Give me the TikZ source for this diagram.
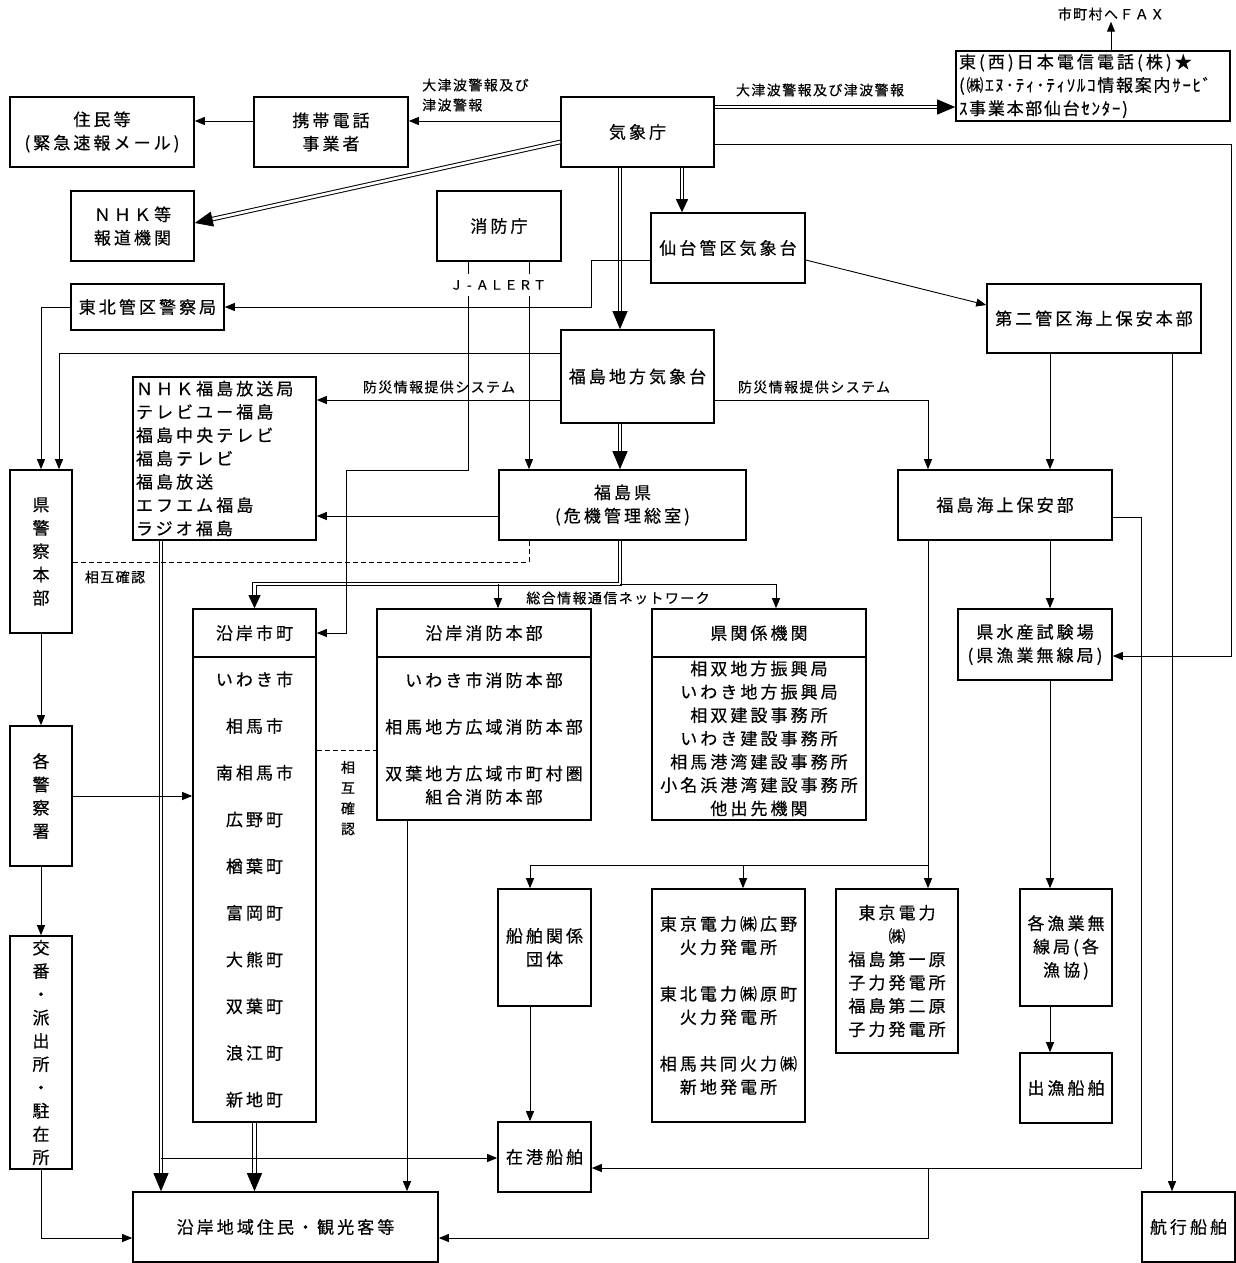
\documentclass[tikz,border=0pt]{standalone}
\usepackage{fontspec}
\setmainfont[LetterSpace=18,FakeBold=0.5]{Noto Sans CJK JP}
\newfontfamily\lblfont[LetterSpace=10,FakeBold=0.4]{Noto Sans CJK JP}
\usetikzlibrary{arrows.meta,calc}

% filled tip laid over the end of a double line
\newcommand{\tipto}[4]{\draw[line width=0.9pt,-{Triangle[width=#1,length=#2]}] ($(#4)!#2!(#3)$) -- (#4);}

\tikzset{
  box/.style={draw, line width=1.6pt, inner sep=0pt, align=center, font=\fontsize{17}{23.3}\selectfont},
  lbl/.style={inner sep=1pt, font=\lblfont\fontsize{14}{20}\selectfont},
  arr/.style={line width=0.9pt, -{Triangle[width=8pt,length=10pt]}},
  dbl/.style={double, double distance=2.6pt, line width=1pt, shorten >=12pt},
  dashline/.style={line width=0.9pt, dash pattern=on 5pt off 3pt}
}

\begin{document}
\begin{tikzpicture}[x=1pt, y=-1pt]
\useasboundingbox (0,0) rectangle (1236,1263);

% top row
\node[box, minimum width=184pt, minimum height=70pt] (jumin) at (102,132) {住民等\\(緊急速報メール)};
\node[box, minimum width=154pt, minimum height=70pt] (keitai) at (331,132) {携帯電話\\事業者};
\node[box, minimum width=153pt, minimum height=70pt] (jma) at (637.5,132) {気象庁};
\node[box, minimum width=274pt, minimum height=70pt, text width=268pt, align=left] (ntt) at (1093,86)
  {東(西)日本電信電話(株)★\\{\lblfont (㈱ｴﾇ･ﾃｨ･ﾃｨｿﾙｺ情報案内ｻｰﾋﾞ}\\{\lblfont ｽ事業本部仙台ｾﾝﾀｰ)}};
\node[lbl] (fax) at (1111,14) {市町村へＦＡＸ};
\node[lbl, align=left, anchor=west] (tsu1) at (421,95) {大津波警報及び\\津波警報};
\node[lbl] (tsu2) at (820,90) {大津波警報及び津波警報};

% second band
\node[box, minimum width=123pt, minimum height=70pt] (nhk) at (132.5,226) {ＮＨＫ等\\報道機関};
\node[box, minimum width=124pt, minimum height=70pt] (fdma) at (499,226) {消防庁};
\node[box, minimum width=154pt, minimum height=70pt] (sendai) at (728,248) {仙台管区気象台};
\node[box, minimum width=153pt, minimum height=46pt] (tpolice) at (147.5,307) {東北管区警察局};
\node[box, minimum width=214pt, minimum height=69pt] (coast2) at (1094,318.5) {第二管区海上保安本部};
\node[box, minimum width=153pt, minimum height=93pt] (fmo) at (637.5,376.5) {福島地方気象台};
\node[box, minimum width=183pt, minimum height=163pt, text width=177pt, align=left] (media) at (224.5,458.5)
  {ＮＨＫ福島放送局\\テレビユー福島\\福島中央テレビ\\福島テレビ\\福島放送\\エフエム福島\\ラジオ福島};
\node[box, minimum width=247pt, minimum height=70pt] (pref) at (622.5,505) {福島県\\(危機管理総室)};
\node[box, minimum width=214pt, minimum height=70pt] (fcoast) at (1005,505) {福島海上保安部};
\node[box, minimum width=62pt, minimum height=163pt] (ppolice) at (41,551.5) {県\\警\\察\\本\\部};

% receiving bodies
\node[box, minimum width=123pt, minimum height=48pt] (cityhead) at (254.5,633) {沿岸市町};
\node[box, minimum width=123pt, minimum height=465pt, font=\fontsize{17}{46.7}\selectfont] (citybody) at (254.5,889.5)
  {いわき市\\相馬市\\南相馬市\\広野町\\楢葉町\\富岡町\\大熊町\\双葉町\\浪江町\\新地町};
\node[box, minimum width=214pt, minimum height=48pt] (firehead) at (484,633) {沿岸消防本部};
\node[box, minimum width=214pt, minimum height=163pt] (firebody) at (484,738.5)
  {いわき市消防本部\\[23.4pt]相馬地方広域消防本部\\[23.4pt]双葉地方広域市町村圏\\組合消防本部};
\node[box, minimum width=214pt, minimum height=48pt] (agencyhead) at (759,633) {県関係機関};
\node[box, minimum width=214pt, minimum height=163pt] (agencybody) at (759,738.5)
  {相双地方振興局\\いわき地方振興局\\相双建設事務所\\いわき建設事務所\\相馬港湾建設事務所\\小名浜港湾建設事務所\\他出先機関};
\node[box, minimum width=154pt, minimum height=71pt] (fish) at (1035,644.5) {県水産試験場\\(県漁業無線局)};
\node[box, minimum width=62pt, minimum height=140pt] (station) at (41,796) {各\\警\\察\\署};
\node[box, minimum width=62pt, minimum height=233pt] (koban) at (41,1052.5) {交\\番\\・\\派\\出\\所\\・\\駐\\在\\所};

% ships and plants
\node[box, minimum width=93pt, minimum height=117pt] (shipgrp) at (544.5,947.5) {船舶関係\\団体};
\node[box, minimum width=153pt, minimum height=233pt] (power) at (728.5,1005.5)
  {東京電力㈱広野\\火力発電所\\[23.3pt]東北電力㈱原町\\火力発電所\\[23.3pt]相馬共同火力㈱\\新地発電所};
\node[box, minimum width=122pt, minimum height=164pt] (tepco) at (897,971)
  {東京電力\\㈱\\福島第一原\\子力発電所\\福島第二原\\子力発電所};
\node[box, minimum width=92pt, minimum height=117pt] (fradio) at (1066,947.5) {各漁業無\\線局(各\\漁協)};
\node[box, minimum width=92pt, minimum height=70pt] (fboat) at (1066,1088) {出漁船舶};
\node[box, minimum width=93pt, minimum height=70pt] (port) at (544.5,1157) {在港船舶};
\node[box, minimum width=305pt, minimum height=70pt] (resid) at (285.5,1227) {沿岸地域住民・観光客等};
\node[box, minimum width=93pt, minimum height=70pt] (sail) at (1188.5,1227) {航行船舶};

% labels
\node[lbl] (bosai1) at (439,387) {防災情報提供システム};
\node[lbl] (bosai2) at (814,387) {防災情報提供システム};
\node[lbl] (mutual1) at (115,577) {相互確認};
\node[lbl] (netlbl) at (618,598) {総合情報通信ネットワーク};
\node[lbl, align=center, font=\lblfont\fontsize{14}{20.5}\selectfont] (mutual2) at (348,798) {相\\互\\確\\認};

% junctions
\coordinate (jn) at (620,584);
\coordinate (mj) at (161,1158);
\coordinate (sj) at (928,865);
\coordinate (bj) at (928,1168);

% double lines
\draw[dbl] (jma.west |- 0,142) -- (nhk.east |- 0,223);
\tipto{15pt}{18pt}{jma.west |- 0,142}{nhk.east |- 0,223}
\draw[dbl] (jma.east |- 0,107) -- (ntt.west |- 0,107);
\tipto{15pt}{18pt}{jma.east |- 0,107}{ntt.west |- 0,107}
\draw[dbl] (jma.south -| 620,0) -- (fmo.north -| 620,0);
\tipto{15pt}{18pt}{jma.south -| 620,0}{fmo.north -| 620,0}
\draw[dbl, shorten >=9pt] (jma.south -| 682,0) -- (sendai.north -| 682,0);
\tipto{12pt}{13pt}{jma.south -| 682,0}{sendai.north -| 682,0}
\draw[dbl] (fmo.south -| 620,0) -- (pref.north -| 620,0);
\tipto{15pt}{18pt}{fmo.south -| 620,0}{pref.north -| 620,0}
\draw[dbl, shorten >=9pt] (pref.south -| jn) |- (cityhead.north |- jn) -- (cityhead.north);
\tipto{12pt}{13pt}{cityhead.north |- jn}{cityhead.north}
\draw[dbl] (media.south -| mj) -- (resid.north -| mj);
\tipto{15pt}{18pt}{media.south -| mj}{resid.north -| mj}
\draw[dbl] (citybody.south) -- (resid.north -| citybody.south);
\tipto{15pt}{18pt}{citybody.south}{resid.north -| citybody.south}

% single lines
\draw[arr] (jma.west |- 0,121) -- (keitai.east |- 0,121);
\draw[arr] (keitai.west |- 0,121) -- (jumin.east |- 0,121);
\draw[arr] (ntt.north -| fax) -- (fax.south);
\draw[arr] (jma.east |- 0,144) -| (1231,656) -- (fish.east |- 0,656);
\draw[arr] (sendai.west |- 0,260) -| (591,307) -- (tpolice.east);
\draw[arr] (sendai.east |- 0,260) -- (coast2.west |- 0,305);
\draw[arr] (fdma.south -| 529,0) -- (pref.north -| 529,0);
\draw[arr] (fdma.south -| 468,0) |- (346,470) |- (cityhead.east);
\draw[arr] (tpolice.west) -| (ppolice.north);
\draw[arr] (fmo.west |- 0,353) -| (ppolice.north -| 59,0);
\draw[arr] (fmo.west |- 0,400) -- (media.east |- 0,400);
\draw[arr] (fmo.east |- 0,400) -| (fcoast.north -| 928,0);
\draw[arr] (pref.west |- 0,516) -- (media.east |- 0,516);
\draw[dashline] (pref.south -| 529,0) |- (ppolice.east |- 0,562);
\draw[arr] (jn -| 498,0) -- (firehead.north -| 498,0);
\draw[arr] (jn) -| (agencyhead.north -| 776,0);
\draw[arr] (ppolice.south) -- (station.north);
\draw[arr] (station.east) -- (citybody.west |- station.east);
\draw[arr] (station.south) -- (koban.north);
\draw[arr] (koban.south) |- (resid.west |- 0,1238);
\draw[dashline] (citybody.east |- 0,750) -- (firebody.west |- 0,750);
\draw[arr] (mj) -- (port.west |- mj);
\draw[arr] (firebody.south -| 407,0) -- (resid.north -| 407,0);
\draw[arr] (coast2.south -| 1050,0) -- (fcoast.north -| 1050,0);
\draw[arr] (coast2.south -| 1172,0) -- (sail.north -| 1172,0);
\draw[arr] (fcoast.south -| 1050,0) -- (fish.north -| 1050,0);
\draw[arr] (fcoast.east |- 0,517) -| (1141,1168) -- (port.east |- 0,1168);
\draw[arr] (bj) |- (resid.east |- 0,1238);
\draw[arr] (fcoast.south -| sj) -- (tepco.north -| sj);
\draw[arr] (sj) -| (shipgrp.north -| 530,0);
\draw[arr] (sj -| 743,0) -- (power.north -| 743,0);
\draw[arr] (fish.south -| 1050,0) -- (fradio.north -| 1050,0);
\draw[arr] (fradio.south -| 1050,0) -- (fboat.north -| 1050,0);
\draw[arr] (shipgrp.south -| 530,0) -- (port.north -| 530,0);

% label laid over the two J-ALERT lines
\node[lbl, fill=white, inner xsep=0pt, inner ysep=6pt, font=\lblfont\fontsize{13}{15}\selectfont] (jalert) at (498,285)
  {Ｊ\makebox[1em]{-}ＡＬＥＲＴ};
\end{tikzpicture}
\end{document}
